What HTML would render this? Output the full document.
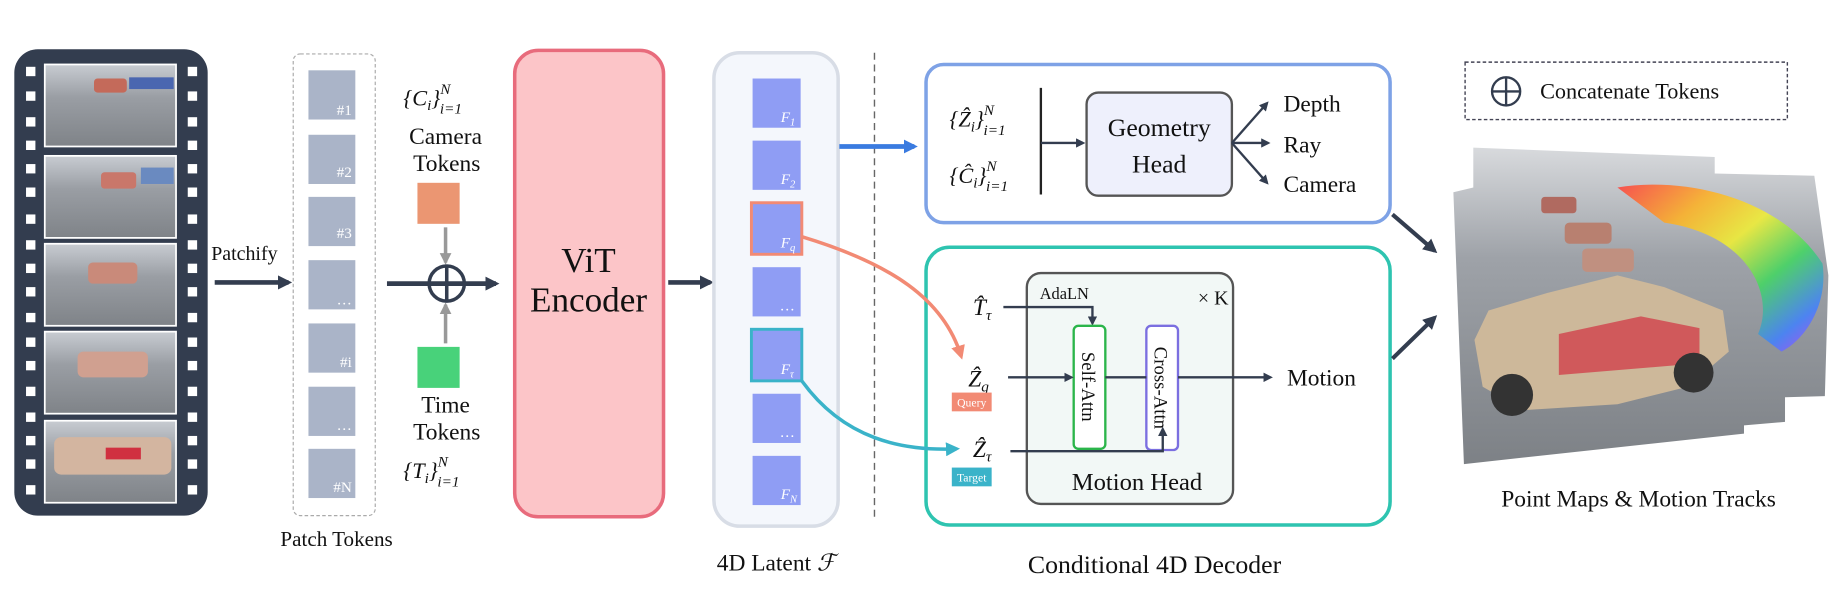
<!DOCTYPE html>
<html><head><meta charset="utf-8"><style>
html,body{margin:0;padding:0;background:#fff;}
svg{display:block;}
text{font-family:"Liberation Serif",serif;fill:#111;}
</style></head><body>
<svg width="1838" height="600" viewBox="0 0 1568 512" xmlns="http://www.w3.org/2000/svg">
<defs>
<marker id="ad" markerWidth="8" markerHeight="8" refX="6" refY="4" orient="auto" markerUnits="userSpaceOnUse"><path d="M0,0 L8,4 L0,8 z" fill="#333d4f"/></marker>
<marker id="ab" markerWidth="12" markerHeight="12" refX="9" refY="6" orient="auto" markerUnits="userSpaceOnUse"><path d="M0,0 L12,6 L0,12 z" fill="#3a7be0"/></marker>
<marker id="ag" markerWidth="10" markerHeight="10" refX="8" refY="5" orient="auto" markerUnits="userSpaceOnUse"><path d="M0,0 L10,5 L0,10 z" fill="#999"/></marker>
<marker id="aB" markerWidth="12" markerHeight="12" refX="9" refY="6" orient="auto" markerUnits="userSpaceOnUse"><path d="M0,0 L12,6 L0,12 z" fill="#333d4f"/></marker>
<marker id="ao" markerWidth="12" markerHeight="12" refX="9" refY="6" orient="auto" markerUnits="userSpaceOnUse"><path d="M0,0 L12,6 L0,12 z" fill="#f28a74"/></marker>
<marker id="at" markerWidth="12" markerHeight="12" refX="9" refY="6" orient="auto" markerUnits="userSpaceOnUse"><path d="M0,0 L12,6 L0,12 z" fill="#3ab3c9"/></marker>
<linearGradient id="fr" x1="0" y1="0" x2="0" y2="1"><stop offset="0" stop-color="#c8ccd2"/><stop offset="0.4" stop-color="#9a9ea4"/><stop offset="1" stop-color="#7f8388"/></linearGradient>
<linearGradient id="rb" x1="0" y1="0" x2="1" y2="1"><stop offset="0" stop-color="#ff3b3b"/><stop offset="0.25" stop-color="#ffb020"/><stop offset="0.45" stop-color="#f2f030"/><stop offset="0.65" stop-color="#40d860"/><stop offset="0.85" stop-color="#4080ff"/><stop offset="1" stop-color="#c040ff"/></linearGradient>
<linearGradient id="pm" x1="0" y1="0" x2="0" y2="1"><stop offset="0" stop-color="#d8dadd"/><stop offset="0.35" stop-color="#9ea2a8"/><stop offset="1" stop-color="#7d8186"/></linearGradient>
</defs>

<!-- Film strip -->
<rect x="12" y="42" width="165" height="398" rx="20" fill="#333d4f"/>
<g fill="#fff">
<rect x="22" y="57" width="8" height="8"/><rect x="22" y="78" width="8" height="8"/><rect x="22" y="100" width="8" height="8"/><rect x="22" y="120" width="8" height="8"/><rect x="22" y="140" width="8" height="8"/><rect x="22" y="160" width="8" height="8"/><rect x="22" y="183" width="8" height="8"/><rect x="22" y="205" width="8" height="8"/><rect x="22" y="225" width="8" height="8"/><rect x="22" y="245" width="8" height="8"/><rect x="22" y="267" width="8" height="8"/><rect x="22" y="288" width="8" height="8"/><rect x="22" y="308" width="8" height="8"/><rect x="22" y="330" width="8" height="8"/><rect x="22" y="352" width="8" height="8"/><rect x="22" y="372" width="8" height="8"/><rect x="22" y="392" width="8" height="8"/><rect x="22" y="414" width="8" height="8"/>
<rect x="160" y="57" width="8" height="8"/><rect x="160" y="78" width="8" height="8"/><rect x="160" y="100" width="8" height="8"/><rect x="160" y="120" width="8" height="8"/><rect x="160" y="140" width="8" height="8"/><rect x="160" y="160" width="8" height="8"/><rect x="160" y="183" width="8" height="8"/><rect x="160" y="205" width="8" height="8"/><rect x="160" y="225" width="8" height="8"/><rect x="160" y="245" width="8" height="8"/><rect x="160" y="267" width="8" height="8"/><rect x="160" y="288" width="8" height="8"/><rect x="160" y="308" width="8" height="8"/><rect x="160" y="330" width="8" height="8"/><rect x="160" y="352" width="8" height="8"/><rect x="160" y="372" width="8" height="8"/><rect x="160" y="392" width="8" height="8"/><rect x="160" y="414" width="8" height="8"/>
</g>
<g stroke="#fff" stroke-width="1.5">
<rect x="38" y="55" width="112" height="70" fill="url(#fr)"/>
<rect x="38" y="133" width="112" height="70" fill="url(#fr)"/>
<rect x="38" y="208" width="112" height="70" fill="url(#fr)"/>
<rect x="38" y="283" width="112" height="70" fill="url(#fr)"/>
<rect x="38" y="359" width="112" height="70" fill="url(#fr)"/>
</g>
<g>
<rect x="80" y="67" width="28" height="12" rx="3" fill="#c46a5a"/><rect x="110" y="66" width="38" height="10" fill="#4a66b0"/>
<rect x="86" y="147" width="30" height="14" rx="3" fill="#c9776a"/><rect x="120" y="143" width="28" height="14" fill="#6a8ac0"/>
<rect x="75" y="224" width="42" height="18" rx="4" fill="#c98a7a"/>
<rect x="66" y="300" width="60" height="22" rx="5" fill="#d0a090"/>
<rect x="46" y="373" width="100" height="32" rx="6" fill="#d3b5a0"/><rect x="90" y="382" width="30" height="10" fill="#d03040"/>
</g>

<!-- Patchify -->
<text x="180" y="222" font-size="17">Patchify</text>
<line x1="183" y1="241" x2="246" y2="241" stroke="#333d4f" stroke-width="4" marker-end="url(#aB)"/>

<!-- Patch tokens -->
<rect x="250" y="46" width="70" height="394" rx="6" fill="#fff" stroke="#aaa" stroke-width="1" stroke-dasharray="3,2"/>
<g fill="#aab4c8">
<rect x="263" y="60" width="40" height="42"/><rect x="263" y="115" width="40" height="42"/><rect x="263" y="168" width="40" height="42"/><rect x="263" y="222" width="40" height="42"/><rect x="263" y="276" width="40" height="42"/><rect x="263" y="330" width="40" height="42"/><rect x="263" y="383" width="40" height="42"/>
</g>
<g font-size="13" text-anchor="end">
<text x="300" y="98" style="fill:#fff">#1</text><text x="300" y="151" style="fill:#fff">#2</text><text x="300" y="203" style="fill:#fff">#3</text><text x="300" y="260" style="fill:#fff">…</text><text x="300" y="313" style="fill:#fff">#i</text><text x="300" y="367" style="fill:#fff">…</text><text x="300" y="420" style="fill:#fff">#N</text>
</g>
<text x="287" y="466" font-size="18" text-anchor="middle">Patch Tokens</text>

<!-- Camera/time tokens -->
<text x="344" y="90" font-size="19" font-style="italic">{C<tspan font-size="13" dy="4">i</tspan><tspan dy="-4">}</tspan><tspan font-size="13" dy="-10">N</tspan><tspan font-size="13" dx="-9" dy="17">i=1</tspan></text>
<text x="380" y="123" font-size="20" text-anchor="middle">Camera</text>
<text x="381" y="146" font-size="20" text-anchor="middle">Tokens</text>
<rect x="356" y="156" width="36" height="35" fill="#eb9672"/>
<line x1="380" y1="194" x2="380" y2="224" stroke="#999" stroke-width="3" marker-end="url(#ag)"/>
<rect x="356" y="296" width="36" height="35" fill="#48d27a"/>
<line x1="380" y1="293" x2="380" y2="260" stroke="#999" stroke-width="3" marker-end="url(#ag)"/>
<line x1="330" y1="242" x2="423" y2="242" stroke="#333d4f" stroke-width="4" marker-end="url(#aB)"/>
<circle cx="381" cy="242" r="15" fill="none" stroke="#333d4f" stroke-width="3"/>
<line x1="381" y1="227" x2="381" y2="257" stroke="#333d4f" stroke-width="3"/>
<text x="380" y="352" font-size="20" text-anchor="middle">Time</text>
<text x="381" y="375" font-size="20" text-anchor="middle">Tokens</text>
<text x="344" y="408" font-size="19" font-style="italic">{T<tspan font-size="13" dy="4">i</tspan><tspan dy="-4">}</tspan><tspan font-size="13" dy="-10">N</tspan><tspan font-size="13" dx="-9" dy="17">i=1</tspan></text>

<!-- ViT -->
<rect x="439" y="43" width="127" height="398" rx="20" fill="#fcc5c8" stroke="#e86b7c" stroke-width="3"/>
<text x="502" y="232" font-size="30" text-anchor="middle">ViT</text>
<text x="502" y="266" font-size="30" text-anchor="middle">Encoder</text>
<line x1="570" y1="241" x2="606" y2="241" stroke="#333d4f" stroke-width="4" marker-end="url(#aB)"/>

<!-- 4D latent -->
<rect x="609" y="45" width="106" height="404" rx="22" fill="#f4f7fc" stroke="#d8dde6" stroke-width="3"/>
<g fill="#8f9df4">
<rect x="642" y="67" width="41" height="42"/><rect x="642" y="120" width="41" height="42"/><rect x="642" y="174" width="41" height="42"/><rect x="642" y="228" width="41" height="42"/><rect x="642" y="282" width="41" height="42"/><rect x="642" y="336" width="41" height="42"/><rect x="642" y="389" width="41" height="42"/>
</g>
<rect x="641" y="173" width="43" height="44" fill="none" stroke="#f28a74" stroke-width="2.5"/>
<rect x="641" y="281" width="43" height="44" fill="none" stroke="#3ab3c9" stroke-width="2.5"/>
<g font-size="13" font-style="italic">
<text x="666" y="104" style="fill:#fff">F<tspan font-size="9" dy="3">1</tspan></text>
<text x="666" y="157" style="fill:#fff">F<tspan font-size="9" dy="3">2</tspan></text>
<text x="666" y="211" style="fill:#fff">F<tspan font-size="9" dy="3">q</tspan></text>
<text x="666" y="265" style="fill:#fff">…</text>
<text x="666" y="319" style="fill:#fff">F<tspan font-size="9" dy="3">τ</tspan></text>
<text x="666" y="373" style="fill:#fff">…</text>
<text x="666" y="426" style="fill:#fff">F<tspan font-size="9" dy="3">N</tspan></text>
</g>
<text x="662" y="487" font-size="20" text-anchor="middle">4D Latent <tspan font-style="italic">ℱ</tspan></text>

<line x1="746" y1="45" x2="746" y2="445" stroke="#666" stroke-width="1.2" stroke-dasharray="6,4"/>
<line x1="716" y1="125" x2="780" y2="125" stroke="#3a7be0" stroke-width="4" marker-end="url(#ab)"/>

<!-- Geometry box -->
<rect x="790" y="55" width="396" height="135" rx="15" fill="#fff" stroke="#7ea2e6" stroke-width="3"/>
<text x="810" y="108" font-size="19" font-style="italic">{Ẑ<tspan font-size="13" dy="4">i</tspan><tspan dy="-4">}</tspan><tspan font-size="13" dy="-10">N</tspan><tspan font-size="13" dx="-9" dy="17">i=1</tspan></text>
<text x="810" y="156" font-size="19" font-style="italic">{Ĉ<tspan font-size="13" dy="4">i</tspan><tspan dy="-4">}</tspan><tspan font-size="13" dy="-10">N</tspan><tspan font-size="13" dx="-9" dy="17">i=1</tspan></text>
<line x1="888" y1="75" x2="888" y2="166" stroke="#222" stroke-width="2"/>
<line x1="888" y1="122" x2="924" y2="122" stroke="#333d4f" stroke-width="2" marker-end="url(#ad)"/>
<rect x="927" y="79" width="124" height="88" rx="10" fill="#eef0fc" stroke="#555" stroke-width="2"/>
<text x="989" y="116" font-size="22" text-anchor="middle">Geometry</text>
<text x="989" y="147" font-size="22" text-anchor="middle">Head</text>
<line x1="1051" y1="122" x2="1081" y2="88" stroke="#333d4f" stroke-width="2" marker-end="url(#ad)"/>
<line x1="1051" y1="122" x2="1082" y2="122" stroke="#333d4f" stroke-width="2" marker-end="url(#ad)"/>
<line x1="1051" y1="122" x2="1081" y2="156" stroke="#333d4f" stroke-width="2" marker-end="url(#ad)"/>
<text x="1095" y="95" font-size="20">Depth</text>
<text x="1095" y="130" font-size="20">Ray</text>
<text x="1095" y="164" font-size="20">Camera</text>

<!-- Motion box -->
<rect x="790" y="211" width="396" height="237" rx="20" fill="#fff" stroke="#2ec4b0" stroke-width="3"/>
<rect x="876" y="233" width="176" height="197" rx="12" fill="#f2f8f6" stroke="#555" stroke-width="2"/>
<text x="887" y="255" font-size="14">AdaLN</text>
<text x="1022" y="260" font-size="17">× K</text>
<text x="830" y="269" font-size="20" font-style="italic">T̂<tspan font-size="13" dy="4">τ</tspan></text>
<polyline points="856,262 932,262 932,276" fill="none" stroke="#333d4f" stroke-width="2" marker-end="url(#ad)"/>
<rect x="916" y="278" width="27" height="105" rx="4" fill="#fff" stroke="#2bb54a" stroke-width="2"/>
<text transform="translate(923,330) rotate(90)" font-size="16" text-anchor="middle">Self-Attn</text>
<rect x="978" y="278" width="27" height="106" rx="4" fill="#fff" stroke="#7b6fe0" stroke-width="2"/>
<text transform="translate(985,331) rotate(90)" font-size="16" text-anchor="middle">Cross-Attn</text>
<text x="826" y="330" font-size="20" font-style="italic">Ẑ<tspan font-size="13" dy="4">q</tspan></text>
<line x1="860" y1="322" x2="914" y2="322" stroke="#333d4f" stroke-width="2" marker-end="url(#ad)"/>
<line x1="943" y1="322" x2="978" y2="322" stroke="#333d4f" stroke-width="2"/>
<line x1="1005" y1="322" x2="1084" y2="322" stroke="#333d4f" stroke-width="2" marker-end="url(#ad)"/>
<text x="1098" y="329" font-size="20">Motion</text>
<rect x="812" y="335" width="34" height="16" fill="#f28a74"/>
<text x="829" y="347" font-size="10" text-anchor="middle" style="fill:#fff">Query</text>
<text x="830" y="390" font-size="20" font-style="italic">Ẑ<tspan font-size="13" dy="4">τ</tspan></text>
<polyline points="862,385 992,385 992,366" fill="none" stroke="#333d4f" stroke-width="2" marker-end="url(#ad)"/>
<rect x="812" y="399" width="34" height="16" fill="#3ab3c9"/>
<text x="829" y="411" font-size="10" text-anchor="middle" style="fill:#fff">Target</text>
<text x="970" y="418" font-size="21" text-anchor="middle">Motion Head</text>
<text x="985" y="489" font-size="22" text-anchor="middle">Conditional 4D Decoder</text>

<!-- Curves (on top) -->
<path d="M684,202 C760,225 805,255 820,304" fill="none" stroke="#f28a74" stroke-width="3" marker-end="url(#ao)"/>
<path d="M684,325 C720,375 770,385 816,383" fill="none" stroke="#3ab3c9" stroke-width="3" marker-end="url(#at)"/>

<!-- arrows to output -->
<line x1="1188" y1="183" x2="1224" y2="214" stroke="#333d4f" stroke-width="3.5" marker-end="url(#aB)"/>
<line x1="1188" y1="306" x2="1224" y2="271" stroke="#333d4f" stroke-width="3.5" marker-end="url(#aB)"/>

<!-- Concatenate legend -->
<rect x="1250" y="53" width="275" height="49" fill="#fff" stroke="#445" stroke-width="1.2" stroke-dasharray="3,2"/>
<circle cx="1285" cy="78" r="12" fill="none" stroke="#333d4f" stroke-width="2"/>
<line x1="1273" y1="78" x2="1297" y2="78" stroke="#333d4f" stroke-width="2"/>
<line x1="1285" y1="66" x2="1285" y2="90" stroke="#333d4f" stroke-width="2"/>
<text x="1314" y="84" font-size="19">Concatenate Tokens</text>

<!-- Point map -->
<polygon points="1257,126 1463,134 1463,148 1548,150 1560,235 1557,338 1523,339 1523,360 1488,363 1488,370 1249,396 1240,164 1257,160" fill="url(#pm)"/>
<path d="M1380,160 C1440,150 1520,170 1555,225 C1560,260 1540,290 1520,300 L1500,285 C1515,250 1490,200 1420,190 Z" fill="url(#rb)" opacity="0.85"/>
<rect x="1315" y="168" width="30" height="14" rx="3" fill="#b06a60"/>
<rect x="1335" y="190" width="40" height="18" rx="4" fill="#b88070"/>
<rect x="1350" y="212" width="44" height="20" rx="4" fill="#c09080"/>
<path d="M1258,290 L1270,265 L1320,250 L1380,235 L1420,245 L1470,265 L1475,300 L1440,330 L1380,345 L1300,350 L1265,330 Z" fill="#cdb89a"/>
<path d="M1330,285 L1400,270 L1450,280 L1450,310 L1330,320 Z" fill="#d23040" opacity="0.7"/>
<circle cx="1290" cy="337" r="18" fill="#333"/><circle cx="1445" cy="318" r="17" fill="#333"/>
<text x="1398" y="432" font-size="20" text-anchor="middle">Point Maps &amp; Motion Tracks</text>
</svg>
</body></html>
